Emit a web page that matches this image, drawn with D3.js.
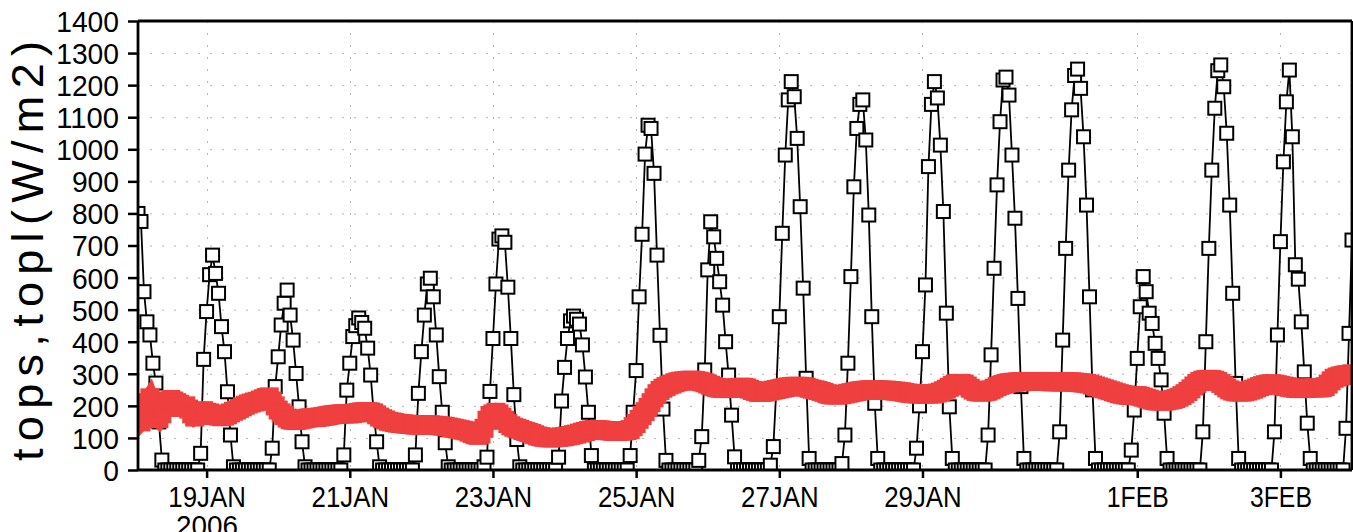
<!DOCTYPE html>
<html><head><meta charset="utf-8">
<script src="https://cdn.jsdelivr.net/npm/d3@7"></script>
<style>body{margin:0;background:#fff}svg{display:block}</style>
</head><body>
<svg id="c" width="1353" height="532"></svg>
<script>
// hourly series, starting 18JAN2006 01Z, ending 04FEB2006 00Z
const startTime = "2006-01-18T01:00:00Z";
const endTime = "2006-02-04T00:00:00Z";

// tops (W/m2), one row per day (00Z..23Z); first row starts 01Z
const topsRows = [
 [800,775,556,462,421,333,271,150,31,0,0,0,0,0,0,0,0,0,0,0,0,52,345],
 [494,609,670,613,551,447,369,244,109,10,0,0,0,0,0,0,0,0,0,0,0,0,68,260],
 [353,452,520,561,483,405,301,197,88,10,0,0,0,0,0,0,0,0,0,0,0,0,47,249],
 [333,416,450,474,460,442,380,296,180,88,10,0,0,0,0,0,0,0,0,0,0,0,47,239],
 [369,483,580,598,540,421,291,180,85,10,0,0,0,0,0,0,0,0,0,0,0,10,40,245],
 [410,580,720,730,710,570,410,235,95,10,0,0,0,0,0,0,0,0,0,0,0,0,40,215],
 [320,410,465,480,470,455,390,290,180,45,0,0,0,0,0,0,0,0,0,0,0,0,45,180],
 [310,540,735,985,1075,1065,925,670,420,190,30,0,0,0,0,0,0,0,0,0,0,30,104,312],
 [624,774,727,660,587,514,400,296,171,41,0,0,0,0,0,0,0,0,0,0,0,15,73,250],
 [478,738,982,1154,1211,1164,1034,821,567,286,36,0,0,0,0,0,0,0,0,0,0,20,109,333],
 [603,883,1065,1140,1154,1029,795,478,208,36,0,0,0,0,0,0,0,0,0,0,0,0,68,200],
 [369,577,946,1140,1211,1160,1013,806,489,197,36,0,0,0,0,0,0,0,0,0,0,0,109,359],
 [629,889,1086,1216,1225,1169,982,785,535,260,36,0,0,0,0,0,0,0,0,0,0,0,119,405],
 [691,935,1123,1230,1250,1190,1039,826,540,250,36,0,0,0,0,0,0,0,0,0,0,0,62,187],
 [348,509,603,556,489,457,395,348,281,177,36,0,0,0,0,0,0,0,0,0,0,0,119,400],
 [691,935,1128,1245,1263,1195,1050,826,551,270,36,0,0,0,0,0,0,0,0,0,0,0,119,421],
 [712,961,1148,1247,1039,640,595,462,306,146,36,0,0,0,0,0,0,0,0,0,0,0,130,426],
 [717]
];

// topl (W/m2), same time grid
const toplRows = [
 [200,150,160,210,225,200,170,160,175,195,215,220,215,210,205,195,200,190,175,165,170,180,185],
 [180,178,175,170,168,166,168,172,178,183,187,192,197,202,206,209,212,214,218,222,226,228,215,200],
 [187,178,170,162,157,155,154,156,158,160,162,163,164,164,165,167,168,170,172,173,174,175,175,175],
 [175,176,178,180,181,182,182,181,178,172,165,160,156,152,150,148,146,145,144,143,142,141,140,140],
 [140,140,141,141,140,139,138,137,136,134,132,130,128,126,124,122,118,114,110,108,112,130,155,170],
 [175,180,175,165,155,145,138,133,130,127,123,120,117,114,110,106,104,102,101,100,100,101,102,103],
 [104,106,108,110,112,115,118,120,123,125,126,126,125,124,123,122,121,120,120,121,122,123,126,135],
 [145,158,170,182,195,210,225,238,248,255,260,265,268,272,275,277,278,279,280,280,279,277,275,272],
 [268,264,260,257,255,254,254,254,255,256,257,258,258,256,252,248,245,242,242,243,245,247,249,251],
 [253,255,257,259,260,261,261,261,260,258,255,252,250,248,245,242,238,235,234,234,234,235,237,239],
 [241,243,245,247,248,249,250,250,250,250,249,249,249,248,247,246,245,244,242,240,239,238,237,237],
 [237,237,237,237,238,240,243,247,252,258,264,268,270,270,268,262,255,249,245,243,243,244,246,250],
 [255,260,264,267,270,272,273,274,275,275,276,276,276,276,276,276,276,276,276,275,275,275,275,275],
 [275,275,275,274,273,272,271,270,268,265,262,259,256,253,250,247,244,241,238,236,234,233,232,232],
 [232,230,227,224,221,218,216,215,215,215,216,218,220,223,227,232,238,245,253,262,270,276,280,282],
 [283,282,280,276,270,263,256,250,246,244,243,243,244,246,249,252,256,260,263,266,268,269,268,266],
 [264,262,260,258,256,255,254,254,254,255,256,256,256,256,257,260,268,278,286,290,293,295,297,298],
 [300]
];

const xTickDates = ["2006-01-19","2006-01-21","2006-01-23","2006-01-25","2006-01-27","2006-01-29","2006-02-01","2006-02-03"];
const xTickLabels = ["19JAN","21JAN","23JAN","25JAN","27JAN","29JAN","1FEB","3FEB"];
const yearLabel = "2006";
const yTicks = [0,100,200,300,400,500,600,700,800,900,1000,1100,1200,1300,1400];
const yTitle = "tops,topl(W/m2)";

const tops = topsRows.flat();
const topl = toplRows.flat();
const t0 = new Date(startTime);
const times = tops.map((_, i) => new Date(t0.getTime() + i * 3600e3));

const L = 138, R = 1352, T = 21, B = 470;
const svg = d3.select("#c");
const x = d3.scaleUtc().domain([t0, new Date(endTime)]).range([L, R]);
const y = d3.scaleLinear().domain([0, 1400]).range([B, T]);
const font = "'Liberation Sans', Arial, sans-serif";

svg.append("defs").append("clipPath").attr("id", "clip")
  .append("rect").attr("x", L).attr("y", T).attr("width", R - L).attr("height", B - T);

// grid
const grid = svg.append("g").attr("stroke", "#b4b4b4").attr("stroke-width", 1).attr("stroke-dasharray", "2,10");
grid.selectAll("line.h").data(yTicks.filter(v => v > 0 && v < 1400)).join("line")
  .attr("x1", L).attr("x2", R).attr("y1", d => y(d) + 0.5).attr("y2", d => y(d) + 0.5);
grid.selectAll("line.v").data(xTickDates).join("line")
  .attr("y1", T).attr("y2", B).attr("x1", d => Math.round(x(new Date(d + "T00:00:00Z"))) + 0.5)
  .attr("x2", d => Math.round(x(new Date(d + "T00:00:00Z"))) + 0.5);

const plot = svg.append("g").attr("clip-path", "url(#clip)");

// tops: black line with hollow squares
const pts = tops.map((v, i) => [times[i], v]);
plot.append("path").datum(pts)
  .attr("d", d3.line().x(d => x(d[0])).y(d => y(d[1])))
  .attr("fill", "none").attr("stroke", "#000").attr("stroke-width", 1.8);
const S = 13;
plot.append("g").selectAll("rect").data(pts).join("rect")
  .attr("x", d => x(d[0]) - S / 2).attr("y", d => y(d[1]) - S / 2)
  .attr("width", S).attr("height", S)
  .attr("fill", "#fff").attr("stroke", "#000").attr("stroke-width", 2);

// topl: thick red line with filled squares
const red = "#ef3f3f";
const lpts = topl.map((v, i) => [times[i], v]);
plot.append("path").datum(lpts)
  .attr("d", d3.line().x(d => x(d[0])).y(d => y(d[1])))
  .attr("fill", "none").attr("stroke", red).attr("stroke-width", 17);
const RS = 19;
plot.append("g").selectAll("rect").data(lpts).join("rect")
  .attr("x", d => x(d[0]) - RS / 2).attr("y", d => y(d[1]) - RS / 2)
  .attr("width", RS).attr("height", RS).attr("fill", red);

// axes
const yAxis = d3.axisLeft(y).tickValues(yTicks).tickSize(10).tickSizeOuter(0).tickFormat(d3.format("d"));
const gy = svg.append("g").attr("transform", `translate(${L},0)`).call(yAxis);
gy.select(".domain").remove();
gy.selectAll(".tick line").attr("stroke", "#000").attr("stroke-width", 2.5);
gy.selectAll(".tick text").attr("x", -19).attr("dy", "0.36em")
  .attr("font-family", font).attr("font-size", 29).attr("fill", "#000")
  .attr("textLength", function () { return 15.7 * this.textContent.length; })
  .attr("lengthAdjust", "spacingAndGlyphs");

const xAxis = d3.axisBottom(x).tickValues(xTickDates.map(d => new Date(d + "T00:00:00Z")))
  .tickSize(8).tickSizeOuter(0).tickFormat((d, i) => xTickLabels[i]);
const gx = svg.append("g").attr("transform", `translate(0,${B})`).call(xAxis);
gx.select(".domain").remove();
gx.selectAll(".tick line").attr("stroke", "#000").attr("stroke-width", 2.5);
gx.selectAll(".tick text").attr("y", 37).attr("dy", null)
  .attr("font-family", font).attr("font-size", 29).attr("fill", "#000")
  .attr("textLength", function () { return 15.5 * this.textContent.length; })
  .attr("lengthAdjust", "spacingAndGlyphs");
gx.select(".tick text").clone()
  .attr("y", 66).text(yearLabel)
  .attr("textLength", 15.5 * yearLabel.length);

// frame
const frame = svg.append("g").attr("stroke", "#000").attr("stroke-width", 2.8).attr("fill", "none");
frame.append("path").attr("d", `M${L},${B}H${R}`);
frame.append("path").attr("d", `M${L},${T}H${R}`);
frame.append("path").attr("d", `M${L},${T}V${B}`);
frame.append("path").attr("d", `M${R},${T}V${B}`);

// y title
svg.append("text").attr("transform", `translate(43,251) rotate(-90)`)
  .attr("text-anchor", "middle").attr("font-family", font).attr("font-size", 45)
  .attr("textLength", 420).attr("lengthAdjust", "spacing").attr("fill", "#000")
  .text(yTitle);
</script>
</body></html>
